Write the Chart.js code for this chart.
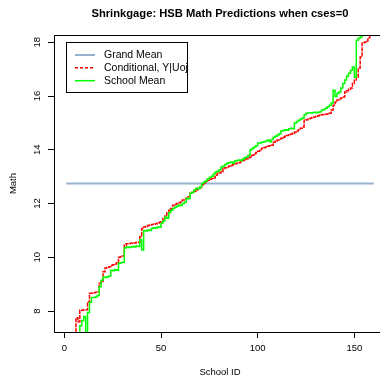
<!DOCTYPE html>
<html>
<head>
<meta charset="utf-8">
<script src="https://cdn.jsdelivr.net/npm/chart.js@4.4.1/dist/chart.umd.min.js"></script>
<style>
  html, body { margin: 0; padding: 0; background: #fff; overflow: hidden; }
  #wrap { width: 392px; height: 377px; }
</style>
</head>
<body>
<div id="wrap"><canvas id="c" width="392" height="377"></canvas></div>
<script>
const FONT = '"Liberation Sans", Arial, Helvetica, sans-serif';

// Schools, ordered by their predicted math score
const schoolIds = Array.from({ length: 160 }, (_, i) => i + 1);

// Overall mean math score across all schools
const grandMean = 12.75;

// Conditional (shrunken) predictions, Y|Uoj
const conditional = [
  5.9, 6.4, 6.8, 7.0, 7.15, 7.75, 7.6, 8.03, 8.03, 8.05,
  8.05, 8.34, 8.66, 8.66, 8.68, 8.7, 8.72, 9.03, 9.1, 9.46,
  9.6, 9.62, 9.65, 9.7, 9.72, 9.75, 9.8, 10.0, 10.02, 10.05,
  10.45, 10.5, 10.5, 10.52, 10.52, 10.53, 10.55, 10.56, 10.76, 11.07,
  11.13, 11.15, 11.18, 11.2, 11.22, 11.23, 11.25, 11.27, 11.3, 11.32,
  11.45, 11.57, 11.67, 11.75, 11.82, 11.94, 11.97, 12.0, 12.03, 12.06,
  12.13, 12.17, 12.21, 12.25, 12.38, 12.42, 12.46, 12.5, 12.57, 12.6,
  12.7, 12.76, 12.8, 12.87, 12.9, 12.93, 12.95, 13.05, 13.12, 13.14,
  13.17, 13.3, 13.33, 13.36, 13.4, 13.42, 13.45, 13.48, 13.5, 13.52,
  13.55, 13.6, 13.64, 13.67, 13.7, 13.73, 13.8, 13.85, 13.9, 13.95,
  14.0, 14.06, 14.08, 14.1, 14.13, 14.15, 14.17, 14.28, 14.32, 14.36,
  14.4, 14.43, 14.47, 14.5, 14.53, 14.56, 14.59, 14.62, 14.66, 14.7,
  14.75, 14.8, 14.85, 15.1, 15.12, 15.15, 15.17, 15.2, 15.22, 15.25,
  15.27, 15.3, 15.3, 15.31, 15.32, 15.33, 15.36, 15.48, 15.66, 15.78,
  15.85, 15.9, 15.93, 15.96, 16.15, 16.2, 16.25, 16.3, 16.47, 16.6,
  16.7, 17.04, 17.45, 17.97, 18.0, 18.05, 18.17, 18.45, 18.9, 19.5
];

// Raw school means
const schoolMean = [
  5.0, 5.6, 6.0, 6.3, 6.6, 6.9, 7.1, 7.45, 7.65, 7.8,
  7.0, 7.95, 8.33, 8.5, 8.5, 8.52, 8.58, 8.9, 9.15, 9.27,
  9.25, 9.28, 9.3, 9.52, 9.5, 9.55, 9.52, 9.78, 9.8, 9.82,
  10.35, 10.38, 10.36, 10.38, 10.4, 10.38, 10.42, 10.4, 10.65, 10.27,
  11.0, 10.98, 11.02, 11.0, 11.07, 11.1, 11.08, 11.13, 11.12, 11.27,
  11.35, 11.5, 11.45, 11.67, 11.75, 11.82, 11.86, 11.9, 11.95, 11.93,
  12.0, 12.05, 12.2, 12.18, 12.38, 12.42, 12.5, 12.57, 12.55, 12.62,
  12.75, 12.8, 12.85, 12.92, 12.98, 13.02, 13.1, 13.17, 13.2, 13.25,
  13.36, 13.4, 13.45, 13.5, 13.52, 13.55, 13.5, 13.58, 13.6, 13.62,
  13.6, 13.65, 13.7, 13.73, 13.8, 14.0, 14.05, 14.1, 14.15, 14.25,
  14.25, 14.28, 14.3, 14.33, 14.36, 14.3, 14.38, 14.47, 14.5, 14.55,
  14.6, 14.7, 14.72, 14.75, 14.73, 14.78, 14.8, 14.78, 15.0, 15.05,
  15.1, 15.15, 15.18, 15.3, 15.36, 15.37, 15.37, 15.38, 15.4, 15.38,
  15.4, 15.42, 15.48, 15.5, 15.55, 15.6, 15.66, 15.74, 16.22, 15.98,
  16.1, 16.15, 16.3, 16.47, 16.6, 16.75, 16.85, 16.96, 17.08, 16.7,
  18.08, 18.15, 18.2, 18.25, 18.6, 18.9, 19.2, 19.5, 19.9, 20.5
];

const xTicks = [0, 50, 100, 150];
const yTicks = [8, 10, 12, 14, 16, 18];
const seriesNames = ['Grand Mean', 'Conditional, Y|Uoj', 'School Mean'];

const toPoints = (vals) => vals.map((v, i) => ({ x: schoolIds[i], y: v }));

// Legend box in the upper-left of the plot, built from the datasets
const boxLegend = {
  id: 'boxLegend',
  afterDraw(chart) {
    const ctx = chart.ctx;
    const left = 66.5, top = 42.5, w = 121, h = 50;
    ctx.save();
    ctx.strokeStyle = '#000';
    ctx.lineWidth = 1;
    ctx.strokeRect(left, top, w, h);
    ctx.font = '10.5px ' + FONT;
    ctx.textBaseline = 'middle';
    ctx.textAlign = 'left';
    chart.data.datasets.forEach((ds, i) => {
      const y = 55 + i * 12.85;
      ctx.beginPath();
      ctx.strokeStyle = ds.borderColor;
      ctx.lineWidth = ds.borderWidth;
      ctx.setLineDash(ds.legendDash || []);
      ctx.moveTo(75, y);
      ctx.lineTo(95, y);
      ctx.stroke();
      ctx.setLineDash([]);
      ctx.fillStyle = '#000';
      ctx.fillText(ds.label, 104, y);
    });
    ctx.restore();
  }
};

// Top side of the plot frame
const plotFrame = {
  id: 'plotFrame',
  afterDraw(chart) {
    const { ctx, chartArea: a } = chart;
    ctx.save();
    ctx.strokeStyle = '#000';
    ctx.lineWidth = 1;
    ctx.beginPath();
    ctx.moveTo(a.left, Math.round(a.top) + 0.5);
    ctx.lineTo(a.right, Math.round(a.top) + 0.5);
    ctx.stroke();
    ctx.restore();
  }
};

const axisFont = { family: FONT, size: 9.5 };

new Chart(document.getElementById('c'), {
  type: 'line',
  data: {
    datasets: [
      {
        label: seriesNames[0],
        data: [{ x: schoolIds[0], y: grandMean }, { x: schoolIds[schoolIds.length - 1], y: grandMean }],
        borderColor: '#97b3cf',
        borderWidth: 2,
        pointRadius: 0,
        order: 3,
        clip: 0
      },
      {
        label: seriesNames[1],
        data: toPoints(conditional),
        borderColor: '#ff0000',
        borderWidth: 1.5,
        borderDash: [4, 1],
        legendDash: [3, 2],
        stepped: 'before',
        pointRadius: 0,
        order: 2,
        clip: 0
      },
      {
        label: seriesNames[2],
        data: toPoints(schoolMean),
        borderColor: '#00ff00',
        borderWidth: 1.5,
        stepped: 'before',
        pointRadius: 0,
        order: 1,
        clip: 0
      }
    ]
  },
  options: {
    responsive: false,
    animation: false,
    layout: { padding: { left: 0, right: 6, top: 0, bottom: 0 } },
    plugins: {
      legend: { display: false },
      tooltip: { enabled: false },
      title: {
        display: true,
        text: 'Shrinkgage: HSB Math Predictions when cses=0',
        fullSize: false,
        color: '#000',
        font: { family: FONT, size: 11.2, weight: 'bold', lineHeight: 1.2 },
        padding: { top: 6.8, bottom: 14.8 }
      }
    },
    scales: {
      x: {
        type: 'linear',
        min: -5.36,
        max: 166.36,
        afterBuildTicks: (s) => { s.ticks = xTicks.map((v) => ({ value: v })); },
        afterFit: (s) => { s.height = 45; },
        grid: { drawOnChartArea: false, drawTicks: true, tickLength: 6, color: '#000', lineWidth: 1 },
        border: { display: true, color: '#000', width: 1 },
        ticks: { color: '#000', font: axisFont, padding: 5, maxRotation: 0, autoSkip: false },
        title: {
          display: true, text: 'School ID', color: '#000',
          font: { family: FONT, size: 9.5, lineHeight: 1 },
          padding: { top: 0, bottom: 0 }
        }
      },
      y: {
        type: 'linear',
        min: 7.22,
        max: 18.27,
        afterBuildTicks: (s) => { s.ticks = yTicks.map((v) => ({ value: v })); },
        afterFit: (s) => { s.width = 54; },
        grid: { drawOnChartArea: false, drawTicks: true, tickLength: 6, color: '#000', lineWidth: 1 },
        border: { display: true, color: '#000', width: 1 },
        ticks: { color: '#000', font: axisFont, padding: 5, minRotation: 90, maxRotation: 90, crossAlign: 'center', autoSkip: false },
        title: {
          display: true, text: 'Math', color: '#000',
          font: { family: FONT, size: 9.5, lineHeight: 1 },
          padding: { top: 8.25, bottom: 0 }
        }
      }
    }
  },
  plugins: [boxLegend, plotFrame]
});
</script>
</body>
</html>
